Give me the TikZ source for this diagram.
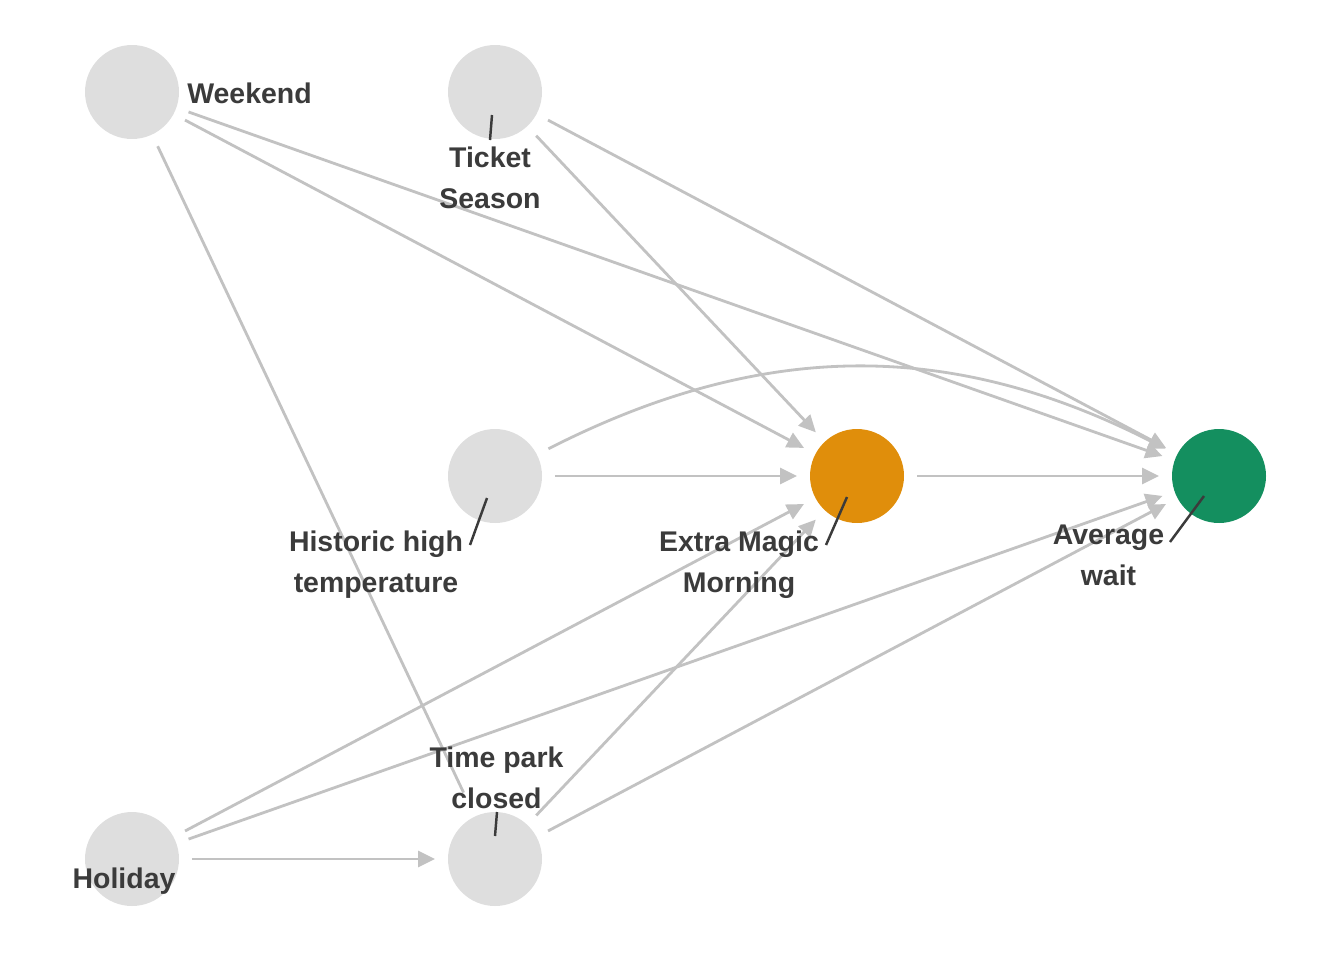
\documentclass[tikz,border=0pt]{standalone}
\usepackage{fontspec}
\setmainfont{Liberation Sans}
\usetikzlibrary{arrows.meta}
\definecolor{nodegray}{HTML}{DEDEDE}
\definecolor{edgegray}{HTML}{C2C2C2}
\definecolor{magic}{HTML}{E08E0B}
\definecolor{outcome}{HTML}{148F5F}
\definecolor{labelgray}{HTML}{3B3B3B}
\tikzset{
  dagnode/.style={circle, fill=nodegray, minimum size=1.88cm, inner sep=0pt, outer sep=0.26cm},
  dagedge/.style={draw=edgegray, line width=1.6pt, -{Triangle[length=0.34cm,width=0.32cm]}},
  daglabel/.style={text=labelgray, font=\bfseries\fontsize{16.2}{23.3}\selectfont, align=center, inner sep=0pt},
  leader/.style={draw=labelgray, line width=1.4pt}
}
\begin{document}
\begin{tikzpicture}[x=0.02cm, y=-0.02cm]
\useasboundingbox (0,0) rectangle (1344,960);
% nodes
\node[dagnode] (weekend) at (132,92) {};
\node[dagnode] (ticket) at (495,92) {};
\node[dagnode] (temp) at (495,476) {};
\node[dagnode, fill=magic] (emm) at (857,476) {};
\node[dagnode, fill=outcome] (wait) at (1219,476) {};
\node[dagnode] (holiday) at (132,859) {};
\node[dagnode] (closed) at (495,859) {};
% edges
\draw[dagedge] (weekend) -- (emm);
\draw[dagedge] (weekend) -- (wait);
\draw[dagedge, -, shorten >=0.27cm] (weekend) -- (closed);
\draw[dagedge] (ticket) -- (emm);
\draw[dagedge] (ticket) -- (wait);
\draw[dagedge] (temp) -- (emm);
\draw[dagedge] (temp) to[bend left=27] (wait);
\draw[dagedge] (emm) -- (wait);
\draw[dagedge] (holiday) -- (emm);
\draw[dagedge] (holiday) -- (wait);
\draw[dagedge] (holiday) -- (closed);
\draw[dagedge] (closed) -- (emm);
\draw[dagedge] (closed) -- (wait);
% labels
\node[daglabel] (weekendlbl) at (249.5,93.5) {Weekend};
\node[daglabel] (ticketlbl) at (490,177.5) {Ticket\\Season};
\node[daglabel] (templbl) at (376,564.5) {Historic high\\temperature};
\node[daglabel] (emmlbl) at (739,564.5) {Extra Magic\\Morning};
\node[daglabel] (waitlbl) at (1108.5,555.5) {Average\\wait};
\node[daglabel] (closedlbl) at (496.5,777.5) {Time park\\closed};
\node[daglabel] (holidaylbl) at (124,881.5) {Holiday};
% leader lines
\coordinate (t1) at (490,140); \coordinate (t2) at (492,115);
\coordinate (h1) at (470,545); \coordinate (h2) at (487,498);
\coordinate (e1) at (826,545); \coordinate (e2) at (847,497);
\coordinate (w1) at (1170,542); \coordinate (w2) at (1204,496);
\coordinate (c1) at (495,836); \coordinate (c2) at (497,812);
\draw[leader] (t1) -- (t2);
\draw[leader] (h1) -- (h2);
\draw[leader] (e1) -- (e2);
\draw[leader] (w1) -- (w2);
\draw[leader] (c1) -- (c2);
\end{tikzpicture}
\end{document}
